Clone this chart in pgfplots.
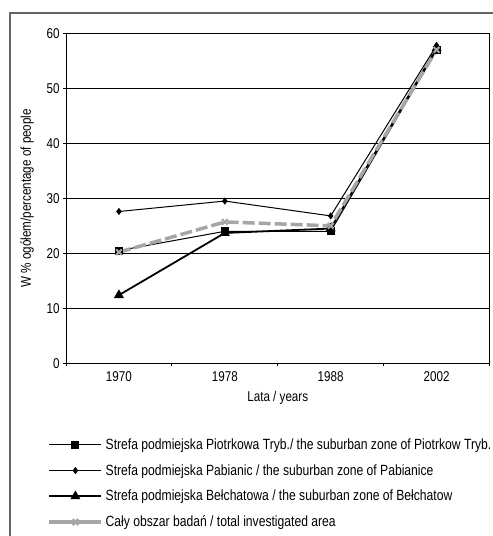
\documentclass[border=0pt]{standalone}
\usepackage{fontspec}
\setmainfont{Liberation Sans}[FakeStretch=0.82]
\usepackage{pgfplots}
\pgfplotsset{compat=1.18}
\definecolor{totalgrey}{HTML}{A6A6A6}
\definecolor{framegrey}{HTML}{666666}
\newcommand{\chartfont}{\fontsize{14.2bp}{17bp}\selectfont}
\newcommand{\legendfont}{\fontsize{14.8bp}{17bp}\selectfont}
\begin{document}
\begin{tikzpicture}
\useasboundingbox (0,0) rectangle (493bp,536bp);
\draw[line width=1.5bp, framegrey] (10bp,-5bp) -- (10bp,523bp) -- (500bp,523bp);
\begin{axis}[
  at={(66bp,172.7bp)}, anchor=south west,
  scale only axis, width=423.5bp, height=330bp,
  xmin=-0.5, xmax=3.5, ymin=0, ymax=60,
  xtick={0,1,2,3}, xticklabels={1970,1978,1988,2002},
  minor xtick={-0.5,0.5,1.5,2.5,3.5},
  ytick={0,10,...,60},
  ymajorgrids, grid style={black, line width=0.6bp},
  axis line style={black, line width=0.8bp},
  tick align=outside, tick pos=left,
  major tick length=3bp, minor tick length=3bp,
  every major x tick/.append style={draw=none},
  tick style={black, line width=0.8bp},
  tick label style={font=\chartfont},
  xticklabel style={yshift=-2bp},
  /pgf/number format/assume math mode=true,
  ylabel={W \% ogółem/percentage of people},
  xlabel={Lata / years},
  every axis y label/.style={at={(axis description cs:-0.092,0.5)}, rotate=90, anchor=center, font=\chartfont},
  every axis x label/.style={at={(axis description cs:0.5,-0.105)}, anchor=center, font=\chartfont},
  legend style={at={(axis description cs:-0.052,-0.216)}, anchor=north west,
    draw=none, fill=none, font=\legendfont, row sep=9.5bp},
  legend cell align=left,
  legend image code/.code={\draw[mark repeat=2, mark phase=2, #1] plot coordinates {(0bp,0bp) (26bp,0bp) (52bp,0bp)};},
]
\addplot[black, line width=1bp, mark=square*, mark size=3.5bp] coordinates {
(0,20.5) (1,24.0) (2,24.0) (3,56.9)};
\addlegendentry{Strefa podmiejska Piotrkowa Tryb./ the suburban zone of Piotrkow Tryb.}
\addplot[black, line width=1bp, mark=diamond*, mark size=2.8bp] coordinates {
(0,27.6) (1,29.5) (2,26.8) (3,57.8)};
\addlegendentry{Strefa podmiejska Pabianic / the suburban zone of Pabianice}
\addplot[black, line width=1.8bp, mark=triangle*, mark size=4bp] coordinates {
(0,12.4) (1,23.7) (2,24.5) (3,57.3)};
\addlegendentry{Strefa podmiejska Bełchatowa / the suburban zone of Bełchatow}
\addplot[totalgrey, line width=3.5bp, dash pattern=on 12bp off 4bp, mark=x, mark size=4bp,
  mark options={solid, line width=2bp}, forget plot] coordinates {
(0,20.2) (1,25.7) (2,25.0) (3,57.0)};
\addlegendimage{totalgrey, line width=4.5bp, mark=x, mark size=4bp, mark options={line width=2.5bp}}
\addlegendentry{Cały obszar badań /  total investigated area}
\end{axis}
\end{tikzpicture}
\end{document}
